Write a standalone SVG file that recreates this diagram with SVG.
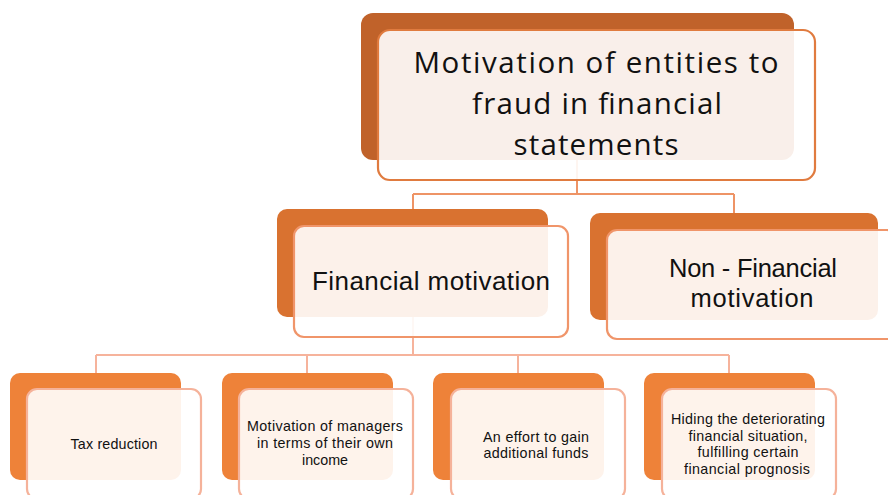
<svg xmlns="http://www.w3.org/2000/svg" width="888" height="495" viewBox="0 0 888 495">
<style>
.front{fill:#ffffff;fill-opacity:0.9;stroke-width:2.2}
.l1 .front{stroke:#E07B3F}
.l2 .front{stroke:#F0956A}
.l3 .front{stroke:#F5B29A}
.t{font-family:"Liberation Sans","Open Sans",sans-serif;fill:#111111;text-anchor:middle}
.tt{font-family:"Open Sans","Liberation Sans",sans-serif;fill:#111111;text-anchor:middle}
.c1{fill:none;stroke:#EE9466;stroke-width:2}
.c2{fill:none;stroke:#F6B39C;stroke-width:2}
</style>
<rect width="888" height="495" fill="#ffffff"/>
<g id="connectors">
<path class="c1" d="M577,160 V194 M413,194 H734 M413,194 V209 M734,194 V213"/>
<path class="c2" d="M413,317 V355 M96,355 H729 M96,355 V373 M307,355 V373 M518,355 V373 M729,355 V373"/>
</g>
<g id="node-root" class="l1">
<rect x="361" y="13" width="433" height="147" rx="12" fill="#C0622A"/>
<rect class="front" x="378" y="30" width="437" height="150" rx="12"/>
<text class="tt" font-size="29.5"><tspan x="596" y="73" textLength="365" lengthAdjust="spacing">Motivation of entities to</tspan><tspan x="597" y="114" textLength="250" lengthAdjust="spacing">fraud in financial</tspan><tspan x="596" y="155" textLength="165" lengthAdjust="spacing">statements</tspan></text>
</g>
<g id="node-financial" class="l2">
<rect x="277" y="209" width="271" height="108" rx="10" fill="#D97230"/>
<rect class="front" x="294" y="226" width="274" height="111" rx="10"/>
<text class="t" font-size="26"><tspan x="431" y="290" textLength="238" lengthAdjust="spacing">Financial motivation</tspan></text>
</g>
<g id="node-nonfinancial" class="l2">
<rect x="590" y="213" width="288" height="107" rx="10" fill="#D97230"/>
<rect class="front" x="607" y="230" width="290" height="109" rx="10"/>
<text class="t" font-size="25.5"><tspan x="753" y="277" textLength="168" lengthAdjust="spacing">Non - Financial</tspan><tspan x="752" y="307" textLength="123" lengthAdjust="spacing">motivation</tspan></text>
</g>
<g id="node-tax" class="l3">
<rect x="10" y="373" width="171" height="107" rx="10" fill="#EE8239"/>
<rect class="front" x="27" y="389" width="174" height="110" rx="10"/>
<text class="t" font-size="14.3"><tspan x="114" y="449" textLength="87" lengthAdjust="spacing">Tax reduction</tspan></text>
</g>
<g id="node-managers" class="l3">
<rect x="222" y="373" width="171" height="107" rx="10" fill="#EE8239"/>
<rect class="front" x="239" y="389" width="174" height="110" rx="10"/>
<text class="t" font-size="14.3"><tspan x="325" y="431" textLength="156" lengthAdjust="spacing">Motivation of managers</tspan><tspan x="325" y="448" textLength="136" lengthAdjust="spacing">in terms of their own</tspan><tspan x="325" y="465" textLength="46" lengthAdjust="spacing">income</tspan></text>
</g>
<g id="node-effort" class="l3">
<rect x="433" y="373" width="171" height="107" rx="10" fill="#EE8239"/>
<rect class="front" x="451" y="389" width="174" height="110" rx="10"/>
<text class="t" font-size="14.3"><tspan x="536" y="441.5" textLength="106" lengthAdjust="spacing">An effort to gain</tspan><tspan x="536" y="458.2" textLength="105" lengthAdjust="spacing">additional funds</tspan></text>
</g>
<g id="node-hiding" class="l3">
<rect x="644" y="373" width="171" height="107" rx="10" fill="#EE8239"/>
<rect class="front" x="662" y="389" width="174" height="110" rx="10"/>
<text class="t" font-size="14.3"><tspan x="748" y="424" textLength="154" lengthAdjust="spacing">Hiding the deteriorating</tspan><tspan x="748" y="440.7" textLength="119" lengthAdjust="spacing">financial situation,</tspan><tspan x="748" y="457.4" textLength="101" lengthAdjust="spacing">fulfilling certain</tspan><tspan x="747" y="474.1" textLength="126" lengthAdjust="spacing">financial  prognosis</tspan></text>
</g>
</svg>
